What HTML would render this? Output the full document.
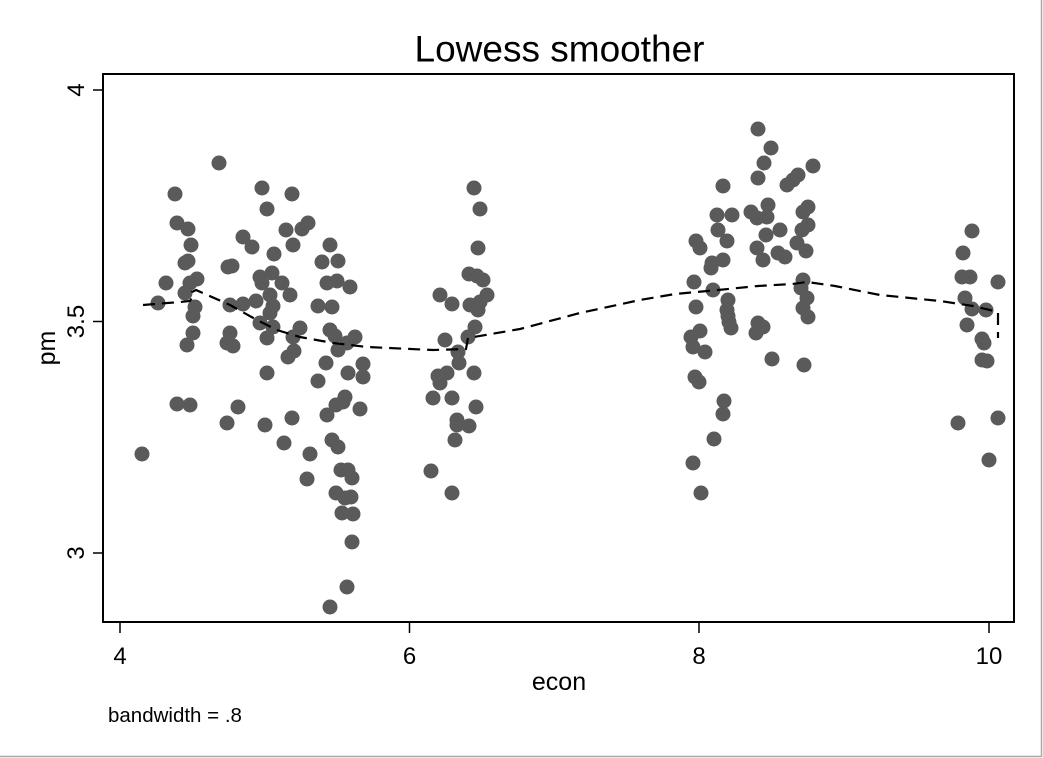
<!DOCTYPE html>
<html>
<head>
<meta charset="utf-8">
<style>
html,body{margin:0;padding:0;background:#fff;}
svg{display:block;}
text{font-family:"Liberation Sans",Arial,sans-serif;fill:#000;}
</style>
</head>
<body>
<svg width="1043" height="758" viewBox="0 0 1043 758" xmlns="http://www.w3.org/2000/svg">
<rect x="0" y="0" width="1043" height="758" fill="#fff"/>
<line x1="1041.5" y1="0" x2="1041.5" y2="757" stroke="#a8a8a8" stroke-width="1.5"/>
<line x1="0" y1="756.5" x2="1042" y2="756.5" stroke="#a8a8a8" stroke-width="1.5"/>

<text x="559.5" y="61.5" font-size="37" text-anchor="middle">Lowess smoother</text>

<g fill="#5a5a5a">
<!-- cluster A -->
<circle cx="142" cy="454" r="7.5"/><circle cx="158" cy="303" r="7.5"/><circle cx="166" cy="283" r="7.5"/>
<circle cx="175" cy="194" r="7.5"/><circle cx="177" cy="223" r="7.5"/><circle cx="188" cy="229" r="7.5"/>
<circle cx="191" cy="245" r="7.5"/><circle cx="188" cy="261" r="7.5"/><circle cx="185" cy="263" r="7.5"/>
<circle cx="197" cy="279" r="7.5"/><circle cx="190" cy="283" r="7.5"/><circle cx="185" cy="293" r="7.5"/>
<circle cx="195" cy="307" r="7.5"/><circle cx="193" cy="316" r="7.5"/><circle cx="193" cy="333" r="7.5"/>
<circle cx="187" cy="345" r="7.5"/><circle cx="177" cy="404" r="7.5"/><circle cx="190" cy="405" r="7.5"/>
<!-- cluster B -->
<circle cx="219" cy="163" r="7.5"/><circle cx="262" cy="188" r="7.5"/><circle cx="292" cy="194" r="7.5"/>
<circle cx="267" cy="209" r="7.5"/><circle cx="243" cy="237" r="7.5"/><circle cx="252" cy="247" r="7.5"/>
<circle cx="286" cy="230" r="7.5"/><circle cx="302" cy="229" r="7.5"/><circle cx="308" cy="223" r="7.5"/>
<circle cx="293" cy="245" r="7.5"/><circle cx="274" cy="254" r="7.5"/><circle cx="330" cy="245" r="7.5"/>
<circle cx="322" cy="262" r="7.5"/><circle cx="338" cy="261" r="7.5"/><circle cx="232" cy="266" r="7.5"/>
<circle cx="228" cy="267" r="7.5"/><circle cx="260" cy="277" r="7.5"/><circle cx="272" cy="273" r="7.5"/>
<circle cx="262" cy="283" r="7.5"/><circle cx="282" cy="283" r="7.5"/><circle cx="327" cy="283" r="7.5"/>
<circle cx="337" cy="281" r="7.5"/><circle cx="350" cy="287" r="7.5"/><circle cx="270" cy="295" r="7.5"/>
<circle cx="290" cy="295" r="7.5"/><circle cx="230" cy="305" r="7.5"/><circle cx="243" cy="304" r="7.5"/>
<circle cx="256" cy="301" r="7.5"/><circle cx="273" cy="306" r="7.5"/><circle cx="318" cy="306" r="7.5"/>
<circle cx="332" cy="307" r="7.5"/><circle cx="270" cy="313" r="7.5"/><circle cx="260" cy="323" r="7.5"/>
<circle cx="273" cy="327" r="7.5"/><circle cx="330" cy="330" r="7.5"/><circle cx="300" cy="328" r="7.5"/>
<circle cx="293" cy="337" r="7.5"/><circle cx="335" cy="336" r="7.5"/><circle cx="355" cy="337" r="7.5"/>
<circle cx="338" cy="350" r="7.5"/><circle cx="347" cy="343" r="7.5"/><circle cx="267" cy="338" r="7.5"/>
<circle cx="230" cy="333" r="7.5"/><circle cx="233" cy="346" r="7.5"/><circle cx="227" cy="343" r="7.5"/>
<circle cx="294" cy="351" r="7.5"/><circle cx="288" cy="357" r="7.5"/><circle cx="326" cy="363" r="7.5"/>
<circle cx="363" cy="364" r="7.5"/><circle cx="348" cy="373" r="7.5"/><circle cx="363" cy="377" r="7.5"/>
<circle cx="267" cy="373" r="7.5"/><circle cx="318" cy="381" r="7.5"/><circle cx="345" cy="397" r="7.5"/>
<circle cx="336" cy="405" r="7.5"/><circle cx="343" cy="402" r="7.5"/><circle cx="327" cy="415" r="7.5"/>
<circle cx="360" cy="409" r="7.5"/><circle cx="292" cy="418" r="7.5"/><circle cx="238" cy="407" r="7.5"/>
<circle cx="227" cy="423" r="7.5"/><circle cx="265" cy="425" r="7.5"/><circle cx="284" cy="443" r="7.5"/>
<circle cx="310" cy="454" r="7.5"/><circle cx="332" cy="440" r="7.5"/><circle cx="338" cy="447" r="7.5"/>
<circle cx="307" cy="479" r="7.5"/><circle cx="341" cy="470" r="7.5"/><circle cx="348" cy="470" r="7.5"/>
<circle cx="352" cy="478" r="7.5"/><circle cx="336" cy="493" r="7.5"/><circle cx="345" cy="498" r="7.5"/>
<circle cx="351" cy="497" r="7.5"/><circle cx="342" cy="513" r="7.5"/><circle cx="353" cy="514" r="7.5"/>
<circle cx="352" cy="542" r="7.5"/><circle cx="347" cy="587" r="7.5"/><circle cx="330" cy="607" r="7.5"/>
<!-- cluster C -->
<circle cx="474" cy="188" r="7.5"/><circle cx="480" cy="209" r="7.5"/><circle cx="478" cy="248" r="7.5"/>
<circle cx="469" cy="274" r="7.5"/><circle cx="477" cy="276" r="7.5"/><circle cx="483" cy="280" r="7.5"/>
<circle cx="440" cy="295" r="7.5"/><circle cx="452" cy="304" r="7.5"/><circle cx="487" cy="295" r="7.5"/>
<circle cx="480" cy="302" r="7.5"/><circle cx="470" cy="305" r="7.5"/><circle cx="478" cy="310" r="7.5"/>
<circle cx="475" cy="327" r="7.5"/><circle cx="468" cy="337" r="7.5"/><circle cx="445" cy="340" r="7.5"/>
<circle cx="458" cy="352" r="7.5"/><circle cx="459" cy="363" r="7.5"/><circle cx="447" cy="373" r="7.5"/>
<circle cx="438" cy="376" r="7.5"/><circle cx="440" cy="383" r="7.5"/><circle cx="474" cy="373" r="7.5"/>
<circle cx="433" cy="398" r="7.5"/><circle cx="452" cy="398" r="7.5"/><circle cx="476" cy="407" r="7.5"/>
<circle cx="457" cy="420" r="7.5"/><circle cx="457" cy="425" r="7.5"/><circle cx="469" cy="426" r="7.5"/>
<circle cx="455" cy="440" r="7.5"/><circle cx="431" cy="471" r="7.5"/><circle cx="452" cy="493" r="7.5"/>
<!-- cluster D -->
<circle cx="758" cy="129" r="7.5"/><circle cx="771" cy="148" r="7.5"/><circle cx="764" cy="163" r="7.5"/>
<circle cx="813" cy="166" r="7.5"/><circle cx="758" cy="178" r="7.5"/><circle cx="798" cy="175" r="7.5"/>
<circle cx="793" cy="180" r="7.5"/><circle cx="787" cy="185" r="7.5"/><circle cx="723" cy="186" r="7.5"/>
<circle cx="768" cy="205" r="7.5"/><circle cx="751" cy="212" r="7.5"/><circle cx="757" cy="218" r="7.5"/>
<circle cx="767" cy="217" r="7.5"/><circle cx="808" cy="207" r="7.5"/><circle cx="803" cy="212" r="7.5"/>
<circle cx="717" cy="215" r="7.5"/><circle cx="732" cy="215" r="7.5"/><circle cx="718" cy="230" r="7.5"/>
<circle cx="808" cy="225" r="7.5"/><circle cx="802" cy="230" r="7.5"/><circle cx="780" cy="230" r="7.5"/>
<circle cx="766" cy="235" r="7.5"/><circle cx="727" cy="241" r="7.5"/><circle cx="696" cy="241" r="7.5"/>
<circle cx="700" cy="248" r="7.5"/><circle cx="757" cy="248" r="7.5"/><circle cx="797" cy="243" r="7.5"/>
<circle cx="806" cy="251" r="7.5"/><circle cx="778" cy="253" r="7.5"/><circle cx="785" cy="257" r="7.5"/>
<circle cx="763" cy="260" r="7.5"/><circle cx="723" cy="260" r="7.5"/><circle cx="712" cy="263" r="7.5"/>
<circle cx="711" cy="268" r="7.5"/><circle cx="694" cy="282" r="7.5"/><circle cx="713" cy="290" r="7.5"/>
<circle cx="803" cy="280" r="7.5"/><circle cx="801" cy="288" r="7.5"/><circle cx="807" cy="298" r="7.5"/>
<circle cx="728" cy="300" r="7.5"/><circle cx="696" cy="307" r="7.5"/><circle cx="803" cy="308" r="7.5"/>
<circle cx="727" cy="310" r="7.5"/><circle cx="728" cy="316" r="7.5"/><circle cx="729" cy="322" r="7.5"/>
<circle cx="731" cy="328" r="7.5"/><circle cx="758" cy="323" r="7.5"/><circle cx="763" cy="327" r="7.5"/>
<circle cx="756" cy="333" r="7.5"/><circle cx="808" cy="317" r="7.5"/><circle cx="700" cy="331" r="7.5"/>
<circle cx="691" cy="337" r="7.5"/><circle cx="693" cy="347" r="7.5"/><circle cx="705" cy="352" r="7.5"/>
<circle cx="772" cy="359" r="7.5"/><circle cx="804" cy="365" r="7.5"/><circle cx="695" cy="377" r="7.5"/>
<circle cx="699" cy="382" r="7.5"/><circle cx="724" cy="401" r="7.5"/><circle cx="723" cy="414" r="7.5"/>
<circle cx="714" cy="439" r="7.5"/><circle cx="693" cy="463" r="7.5"/><circle cx="701" cy="493" r="7.5"/>
<!-- cluster E -->
<circle cx="972" cy="231" r="7.5"/><circle cx="963" cy="253" r="7.5"/><circle cx="962" cy="277" r="7.5"/>
<circle cx="970" cy="277" r="7.5"/><circle cx="998" cy="282" r="7.5"/><circle cx="965" cy="298" r="7.5"/>
<circle cx="972" cy="309" r="7.5"/><circle cx="986" cy="310" r="7.5"/><circle cx="967" cy="325" r="7.5"/>
<circle cx="982" cy="339" r="7.5"/><circle cx="984" cy="343" r="7.5"/><circle cx="982" cy="360" r="7.5"/>
<circle cx="987" cy="361" r="7.5"/><circle cx="958" cy="423" r="7.5"/><circle cx="998" cy="418" r="7.5"/>
<circle cx="989" cy="460" r="7.5"/>
</g>

<polyline fill="none" stroke="#000" stroke-width="2.2" stroke-dasharray="12 7"
 points="143,305 180,302 190,301 193,296 192,292 196,290 230,305 257,320 277,330 300,337 333,343 367,347 433,350 466,349 468,338 520,329 580,313 640,300 675,294 718,290 758,286 792,284 807,282 835,286 880,295 940,301 973,306 990,310 998,312 998,338"/>

<!-- frame -->
<rect x="103" y="74" width="911" height="548" fill="none" stroke="#000" stroke-width="2"/>

<g stroke="#000" stroke-width="1.5">
<line x1="93" y1="90" x2="103" y2="90"/>
<line x1="93" y1="321.5" x2="103" y2="321.5"/>
<line x1="93" y1="553" x2="103" y2="553"/>
<line x1="120" y1="622" x2="120" y2="633"/>
<line x1="409.5" y1="622" x2="409.5" y2="633"/>
<line x1="699" y1="622" x2="699" y2="633"/>
<line x1="989" y1="622" x2="989" y2="633"/>
</g>

<g font-size="24" text-anchor="middle">
<text transform="translate(84,90) rotate(-90)">4</text>
<text transform="translate(84,321.5) rotate(-90)">3.5</text>
<text transform="translate(84,553) rotate(-90)">3</text>
<text x="120" y="664">4</text>
<text x="409.5" y="664">6</text>
<text x="699" y="664">8</text>
<text x="989" y="664">10</text>
</g>

<text x="559" y="690" font-size="25" text-anchor="middle">econ</text>
<text transform="translate(55,348) rotate(-90)" font-size="25" text-anchor="middle">pm</text>
<text x="108" y="722" font-size="20.5">bandwidth = .8</text>
</svg>
</body>
</html>
